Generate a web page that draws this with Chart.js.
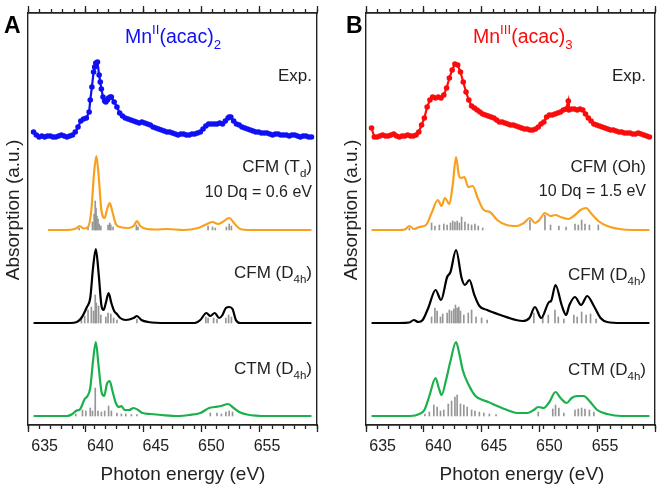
<!DOCTYPE html>
<html>
<head>
<meta charset="utf-8">
<script src="https://cdn.jsdelivr.net/npm/chart.js@4.4.1/dist/chart.umd.min.js"></script>
<style>
  html, body { margin: 0; padding: 0; background: #fff; }
  #wrap { position: relative; width: 663px; height: 492px; }
  canvas { position: absolute; top: 0; }
  #chartA { left: 0; }
  #chartB { left: 331px; }
</style>
</head>
<body>
<div id="wrap">
  <canvas id="chartA" width="331" height="492"></canvas>
  <canvas id="chartB" width="332" height="492"></canvas>
</div>
<script>
// x range (eV) and vertical offsets of the stacked spectra (Exp, CFM, CFM D4h, CTM)
const X_MIN = 634, X_MAX = 659;
const offsets = [2.88, 1.95, 1.02, 0.09];

// ---- panel A : Mn(II)(acac)2 ----
const expA_E = [634.0,634.25,634.5,634.75,635.0,635.25,635.5,635.75,636.0,636.25,636.5,636.75,637.0,637.25,637.5,637.75,638.0,638.25,638.5,638.75,639.0,639.1,639.25,639.4,639.5,639.6,639.75,639.9,640.0,640.1,640.25,640.4,640.5,640.65,640.75,640.9,641.0,641.25,641.5,641.75,642.0,642.25,642.5,642.75,643.0,643.25,643.5,643.75,644.0,644.25,644.5,644.75,645.0,645.25,645.5,645.75,646.0,646.25,646.5,646.75,647.0,647.25,647.5,647.75,648.0,648.25,648.5,648.75,649.0,649.25,649.5,649.75,650.0,650.25,650.5,650.75,651.0,651.25,651.5,651.6,651.75,652.0,652.25,652.5,652.75,653.0,653.25,653.5,653.75,654.0,654.25,654.5,654.75,655.0,655.25,655.5,655.75,656.0,656.25,656.5,656.75,657.0,657.25,657.5,657.75,658.0,658.25,658.5,658.75,659.0];
const expA_I = [0.05,0.02,0.0,0.01,0.0,0.01,0.01,0.0,0.0,0.01,0.02,0.01,0.0,0.01,0.02,0.05,0.10,0.16,0.18,0.19,0.25,0.37,0.50,0.65,0.70,0.74,0.75,0.62,0.55,0.48,0.40,0.36,0.35,0.37,0.39,0.40,0.40,0.35,0.30,0.24,0.21,0.19,0.18,0.17,0.16,0.15,0.14,0.15,0.14,0.13,0.12,0.10,0.09,0.08,0.07,0.06,0.05,0.05,0.04,0.03,0.02,0.03,0.03,0.02,0.02,0.03,0.03,0.04,0.05,0.08,0.11,0.13,0.13,0.13,0.13,0.14,0.13,0.16,0.19,0.20,0.20,0.16,0.13,0.12,0.10,0.09,0.08,0.07,0.06,0.05,0.05,0.04,0.04,0.04,0.03,0.02,0.03,0.03,0.02,0.02,0.02,0.01,0.02,0.02,0.01,0.0,0.01,0.01,0.0,0.0];

const tdA_E = [635.3,636.5,637.5,637.9,638.15,638.5,638.9,639.2,639.45,639.65,639.85,640.1,640.4,640.6,640.85,641.1,641.4,641.8,642.5,643.0,643.3,643.6,644.2,645.0,646.0,647.5,648.8,649.6,650.1,650.6,651.0,651.6,652.1,652.6,653.5,655,657,659];
const tdA_I = [0,0,0.005,0.02,0.04,0.015,0.03,0.2,0.58,0.74,0.55,0.2,0.12,0.2,0.27,0.18,0.06,0.03,0.02,0.04,0.09,0.04,0.01,0.005,0.01,0,0.02,0.06,0.08,0.06,0.08,0.12,0.06,0.01,0,0,0,0];

const d4hA_E = [634,636,637.3,637.9,638.3,638.8,639.1,639.35,639.6,639.85,640.1,640.3,640.5,640.75,641.0,641.25,641.5,641.8,642.3,643.0,643.3,643.7,644.3,646,648.5,649.0,649.55,649.9,650.3,650.7,651.0,651.3,651.6,651.9,652.2,652.6,654,659];
const d4hA_I = [0,0,0,0.01,0.05,0.16,0.25,0.55,0.74,0.5,0.18,0.13,0.2,0.30,0.2,0.12,0.09,0.05,0.03,0.05,0.07,0.03,0.01,0,0,0.03,0.10,0.07,0.10,0.05,0.08,0.15,0.16,0.14,0.03,0,0,0];

const ctmA_E = [634,636,637.0,637.5,637.8,638.2,638.6,638.85,639.1,639.35,639.6,639.85,640.1,640.35,640.6,640.85,641.1,641.4,641.7,641.9,642.2,642.6,643.0,643.4,643.8,644.5,645.5,647,648,649,649.8,650.3,650.9,651.5,652.0,652.5,653.2,655,659];
const ctmA_I = [0,0,0,0.02,0.05,0.07,0.17,0.20,0.28,0.55,0.74,0.5,0.25,0.2,0.32,0.35,0.25,0.13,0.09,0.10,0.06,0.06,0.08,0.06,0.03,0.02,0.01,0,0.01,0.03,0.08,0.09,0.10,0.12,0.08,0.04,0.015,0,0];

const stTdA_E = [638.1,638.9,639.3,639.45,639.55,639.62,639.7,639.8,639.9,640.05,640.7,640.85,640.95,641.15,643.25,643.4,649.7,650.1,650.35,651.35,651.6,651.8];
const stTdA_H = [0.02,0.02,0.08,0.16,0.29,0.22,0.14,0.11,0.06,0.04,0.05,0.07,0.05,0.03,0.05,0.03,0.04,0.03,0.02,0.03,0.06,0.04];
const stD4hA_E = [638.3,638.6,638.9,639.2,639.4,639.55,639.65,639.85,640.05,640.5,640.7,640.95,641.2,641.5,643.3,649.5,649.7,650.2,650.5,651.3,651.55,651.8];
const stD4hA_H = [0.05,0.07,0.13,0.16,0.12,0.28,0.2,0.17,0.08,0.06,0.1,0.09,0.05,0.03,0.04,0.06,0.05,0.05,0.04,0.05,0.08,0.06];
const stCtmA_E = [637.8,638.4,638.7,639.1,639.3,639.55,639.8,640.1,640.4,640.75,641.0,641.5,641.9,642.3,642.8,643.3,649.9,650.5,650.9,651.3,651.6,651.9];
const stCtmA_H = [0.02,0.06,0.05,0.08,0.05,0.28,0.05,0.04,0.05,0.10,0.05,0.03,0.02,0.02,0.015,0.015,0.03,0.03,0.02,0.04,0.05,0.04];

// ---- panel B : Mn(III)(acac)3 ----
const expB_E = [634.0,634.25,634.5,634.75,635.0,635.25,635.5,635.75,636.0,636.25,636.5,636.75,637.0,637.25,637.5,637.75,638.0,638.25,638.5,638.75,639.0,639.25,639.5,639.75,640.0,640.25,640.5,640.75,641.0,641.25,641.5,641.75,642.0,642.25,642.5,642.75,643.0,643.25,643.5,643.75,644.0,644.25,644.5,644.75,645.0,645.25,645.5,645.75,646.0,646.25,646.5,646.75,647.0,647.25,647.5,647.75,648.0,648.25,648.5,648.75,649.0,649.25,649.5,649.75,650.0,650.25,650.5,650.75,651.0,651.25,651.5,651.7,651.75,652.0,652.25,652.5,652.75,653.0,653.25,653.5,653.75,654.0,654.25,654.5,654.75,655.0,655.25,655.5,655.75,656.0,656.25,656.5,656.75,657.0,657.25,657.5,657.75,658.0,658.25,658.5,658.75,659.0];
const expB_I = [0.09,0.0,0.0,0.01,0.02,0.01,0.01,0.02,0.03,0.01,0.0,0.01,0.01,0.02,0.01,0.01,0.02,0.05,0.12,0.19,0.30,0.37,0.40,0.39,0.40,0.39,0.42,0.49,0.59,0.67,0.73,0.72,0.65,0.55,0.45,0.37,0.31,0.29,0.27,0.25,0.23,0.22,0.21,0.20,0.19,0.17,0.15,0.15,0.14,0.13,0.12,0.12,0.11,0.10,0.09,0.08,0.08,0.07,0.07,0.08,0.10,0.13,0.15,0.20,0.22,0.22,0.23,0.24,0.25,0.27,0.28,0.36,0.27,0.28,0.28,0.27,0.28,0.27,0.23,0.19,0.16,0.13,0.12,0.11,0.10,0.09,0.08,0.07,0.07,0.06,0.05,0.05,0.04,0.04,0.04,0.03,0.03,0.04,0.03,0.02,0.01,0.0];

const ohB_E = [634,636.5,637.0,637.4,637.8,638.3,638.9,639.4,639.96,640.3,640.6,641.0,641.3,641.6,641.85,642.05,642.35,642.7,643.1,643.55,644.1,644.65,645.3,646.15,647.1,647.7,648.25,648.7,649.1,649.6,650.1,650.55,651.0,651.7,652.3,652.8,653.3,653.8,654.4,655.2,656.3,657.5,659];
const ohB_I = [0,0,0.005,0.04,0.01,0.03,0.05,0.17,0.30,0.24,0.32,0.26,0.45,0.73,0.55,0.52,0.53,0.43,0.44,0.32,0.20,0.18,0.10,0.05,0.04,0.07,0.12,0.07,0.10,0.17,0.14,0.15,0.13,0.11,0.15,0.20,0.22,0.16,0.09,0.04,0.01,0,0];

const d4hB_E = [634,636.5,637.4,637.8,638.2,638.6,639.1,639.76,640.25,640.8,641.1,641.6,642.1,642.4,642.8,643.25,643.7,644.4,645.6,647.0,647.6,648.2,648.7,649.26,649.97,650.15,650.55,651.1,651.5,651.8,652.3,652.85,653.4,654.0,654.6,655.2,656.5,659];
const d4hB_I = [0,0,0.005,0.03,0.01,0.03,0.15,0.33,0.23,0.46,0.51,0.73,0.45,0.38,0.43,0.28,0.17,0.13,0.08,0.03,0.02,0.05,0.16,0.05,0.21,0.22,0.38,0.18,0.08,0.18,0.26,0.18,0.27,0.17,0.05,0.01,0,0];

const ctmB_E = [634,636.5,637.5,638.3,638.75,639.2,639.76,640.05,640.3,640.7,641.1,641.6,641.9,642.2,642.7,643.35,644.0,644.5,645.3,646.2,647.1,648.0,648.6,649.0,649.5,650.0,650.55,651.0,651.55,652.0,652.5,653.1,653.6,654.3,655.2,656.5,659];
const ctmB_I = [0,0,0,0.02,0.06,0.2,0.38,0.28,0.21,0.36,0.55,0.74,0.62,0.46,0.32,0.20,0.16,0.14,0.10,0.06,0.03,0.03,0.06,0.09,0.08,0.14,0.24,0.18,0.13,0.18,0.20,0.20,0.15,0.06,0.02,0,0];

const stOhB_E = [637.4,639.4,639.7,640.1,640.5,640.8,641.1,641.3,641.5,641.7,641.9,642.1,642.4,642.7,643.0,643.3,643.6,644.0,648.25,649.6,650.1,650.85,651.5,652.3,652.6,652.9,653.2,653.6,654.4];
const stOhB_H = [0.02,0.07,0.04,0.05,0.06,0.05,0.07,0.09,0.08,0.09,0.07,0.13,0.08,0.06,0.05,0.06,0.04,0.02,0.10,0.15,0.05,0.04,0.03,0.06,0.05,0.10,0.06,0.05,0.05];
const stD4hB_E = [639.4,639.7,639.9,640.2,640.4,640.8,641.0,641.2,641.4,641.55,641.7,641.85,642.0,642.3,642.7,643.0,643.4,643.9,644.4,648.6,649.4,649.9,650.5,650.8,651.3,652.2,652.5,652.9,653.3,653.7,654.2];
const stD4hB_H = [0.06,0.15,0.12,0.06,0.09,0.1,0.13,0.12,0.14,0.18,0.15,0.16,0.12,0.08,0.10,0.13,0.06,0.05,0.03,0.10,0.06,0.08,0.13,0.06,0.04,0.08,0.06,0.11,0.08,0.09,0.04];
const stCtmB_E = [638.8,639.2,639.6,639.9,640.2,640.5,640.9,641.2,641.5,641.7,642.0,642.3,642.6,643.0,643.3,643.7,644.1,644.6,645.2,649.0,650.3,650.55,650.85,651.3,652.3,652.6,652.9,653.2,653.6,654.0];
const stCtmB_H = [0.02,0.04,0.11,0.09,0.05,0.06,0.12,0.15,0.19,0.21,0.12,0.11,0.09,0.06,0.05,0.04,0.03,0.02,0.015,0.04,0.07,0.11,0.08,0.03,0.06,0.07,0.08,0.07,0.06,0.04];

const FONT = '"Liberation Sans", Arial, sans-serif';
Chart.defaults.font.family = FONT;
Chart.defaults.color = '#222';

function expSet(E, I, color) {
  return {
    type: 'line', xAxisID: 'x', yAxisID: 'y', order: 1,
    data: E.map((e, i) => ({ x: e, y: offsets[0] + I[i] })),
    borderColor: color, borderWidth: 2.2, tension: 0,
    pointRadius: 2.8, pointBackgroundColor: color, pointBorderWidth: 0
  };
}

function curveSet(E, I, off, color) {
  return {
    type: 'line', xAxisID: 'x', yAxisID: 'y', order: 1,
    data: E.map((e, i) => ({ x: e, y: off + I[i] })),
    borderColor: color, borderWidth: 2.2, pointRadius: 0,
    cubicInterpolationMode: 'monotone'
  };
}

function stickSet(E, H, off) {
  return {
    type: 'bar', xAxisID: 'x', yAxisID: 'y', order: 2,
    data: E.map((e, i) => ({ x: e, y: [off, off + H[i]] })),
    backgroundColor: '#969696', barThickness: 1, grouped: false
  };
}

function drawRich(ctx, parts, x, y, size, color, align) {
  const fnt = (s, b) => (b ? 'bold ' : '') + s + 'px ' + FONT;
  const sz = p => (p.sub || p.sup) ? size * 0.68 : size;
  let w = 0;
  parts.forEach(p => { ctx.font = fnt(sz(p), p.bold); w += ctx.measureText(p.t).width; });
  let cx = align === 'right' ? x - w : align === 'center' ? x - w / 2 : x;
  ctx.fillStyle = color;
  ctx.textAlign = 'left';
  ctx.textBaseline = 'alphabetic';
  parts.forEach(p => {
    ctx.font = fnt(sz(p), p.bold);
    const dy = p.sub ? size * 0.3 : p.sup ? -size * 0.45 : 0;
    ctx.fillText(p.t, cx, y + dy);
    cx += ctx.measureText(p.t).width;
  });
}

function textPlugin(labels, yTitle, xTitle) {
  return {
    id: 'panelText',
    afterDraw(chart) {
      const ctx = chart.ctx;
      ctx.save();
      labels.forEach(l => drawRich(ctx, l.parts, l.x, l.y, l.size, l.color || '#222', l.align));
      ctx.translate(yTitle.x, yTitle.y);
      ctx.rotate(-Math.PI / 2);
      drawRich(ctx, [{ t: 'Absorption (a.u.)' }], 0, 6, 19, '#222', 'center');
      ctx.restore();
      ctx.save();
      drawRich(ctx, [{ t: 'Photon energy (eV)' }], xTitle.x, xTitle.y, 19, '#222', 'center');
      ctx.restore();
    }
  };
}

// 'x' / 'xTop' carry the 1 eV ticks (and the labels); 'xMajor' / 'xTopMajor' are zero-height
// axes laid next to the plot that only add the longer 5 eV ticks
function xAxis(position, major, size, weight) {
  const axisColor = '#222';
  return {
    type: 'linear', position, min: X_MIN, max: X_MAX, bounds: 'data', weight,
    ticks: {
      stepSize: major ? 5 : 1, autoSkip: false, maxRotation: 0, includeBounds: !major,
      padding: 8, color: '#222', font: { size: 16 },
      callback: v => (!major && position === 'bottom' && v % 5 === 0 ? String(v) : '')
    },
    grid: { drawOnChartArea: false, tickLength: major ? 7 : 4, tickWidth: 1.3, tickColor: axisColor },
    border: { display: true, color: axisColor, width: 1.4 },
    afterFit: s => { s.height = size; }
  };
}

function yAxis(position, width) {
  return {
    type: 'linear', position, min: 0, max: 4.12,
    ticks: { display: false },
    grid: { drawOnChartArea: false, drawTicks: false },
    border: { display: true, color: '#222', width: 1.4 },
    afterFit: s => { s.width = width; }
  };
}

function makeChart(id, leftW, rightW, datasets, plugin) {
  return new Chart(document.getElementById(id), {
    type: 'line',
    data: { datasets },
    options: {
      responsive: false, animation: false, devicePixelRatio: 1, events: [],
      layout: { padding: 0 },
      plugins: { legend: { display: false }, tooltip: { enabled: false } },
      scales: {
        x: xAxis('bottom', false, 67, 1),
        xMajor: xAxis('bottom', true, 0, 0),
        xTop: xAxis('top', false, 13, 1),
        xTopMajor: xAxis('top', true, 0, 0),
        y: yAxis('left', leftW),
        yRight: yAxis('right', rightW)
      }
    },
    plugins: [plugin]
  });
}

const BLUE = '#1010f5', RED = '#fa0c0c', ORANGE = '#f7a11f', BLACK = '#000000', GREEN = '#1cb04c';

makeChart('chartA', 28, 14, [
  stickSet(stTdA_E, stTdA_H, offsets[1]),
  stickSet(stD4hA_E, stD4hA_H, offsets[2]),
  stickSet(stCtmA_E, stCtmA_H, offsets[3]),
  expSet(expA_E, expA_I, BLUE),
  curveSet(tdA_E, tdA_I, offsets[1], ORANGE),
  curveSet(d4hA_E, d4hA_I, offsets[2], BLACK),
  curveSet(ctmA_E, ctmA_I, offsets[3], GREEN)
], textPlugin([
  { parts: [{ t: 'A', bold: true }], x: 4, y: 33, size: 23, color: '#000' },
  { parts: [{ t: 'Mn' }, { t: 'II', sup: true }, { t: '(acac)' }, { t: '2', sub: true }], x: 125, y: 43, size: 19.5, color: BLUE },
  { parts: [{ t: 'Exp.' }], x: 312, y: 81, size: 17, align: 'right' },
  { parts: [{ t: 'CFM (T' }, { t: 'd', sub: true }, { t: ')' }], x: 312, y: 172, size: 17, align: 'right' },
  { parts: [{ t: '10 Dq = 0.6 eV' }], x: 312, y: 197, size: 16, align: 'right' },
  { parts: [{ t: 'CFM (D' }, { t: '4h', sub: true }, { t: ')' }], x: 312, y: 278, size: 17, align: 'right' },
  { parts: [{ t: 'CTM (D' }, { t: '4h', sub: true }, { t: ')' }], x: 312, y: 374, size: 17, align: 'right' }
], { x: 13, y: 210 }, { x: 183, y: 480 }));

makeChart('chartB', 35, 7, [
  stickSet(stOhB_E, stOhB_H, offsets[1]),
  stickSet(stD4hB_E, stD4hB_H, offsets[2]),
  stickSet(stCtmB_E, stCtmB_H, offsets[3]),
  expSet(expB_E, expB_I, RED),
  curveSet(ohB_E, ohB_I, offsets[1], ORANGE),
  curveSet(d4hB_E, d4hB_I, offsets[2], BLACK),
  curveSet(ctmB_E, ctmB_I, offsets[3], GREEN)
], textPlugin([
  { parts: [{ t: 'B', bold: true }], x: 15, y: 33, size: 23, color: '#000' },
  { parts: [{ t: 'Mn' }, { t: 'III', sup: true }, { t: '(acac)' }, { t: '3', sub: true }], x: 142, y: 43, size: 19.5, color: RED },
  { parts: [{ t: 'Exp.' }], x: 315, y: 81, size: 17, align: 'right' },
  { parts: [{ t: 'CFM (Oh)' }], x: 315, y: 172, size: 17, align: 'right' },
  { parts: [{ t: '10 Dq = 1.5 eV' }], x: 315, y: 196, size: 16, align: 'right' },
  { parts: [{ t: 'CFM (D' }, { t: '4h', sub: true }, { t: ')' }], x: 315, y: 280, size: 17, align: 'right' },
  { parts: [{ t: 'CTM (D' }, { t: '4h', sub: true }, { t: ')' }], x: 315, y: 375, size: 17, align: 'right' }
], { x: 20, y: 210 }, { x: 191, y: 480 }));
</script>
</body>
</html>
